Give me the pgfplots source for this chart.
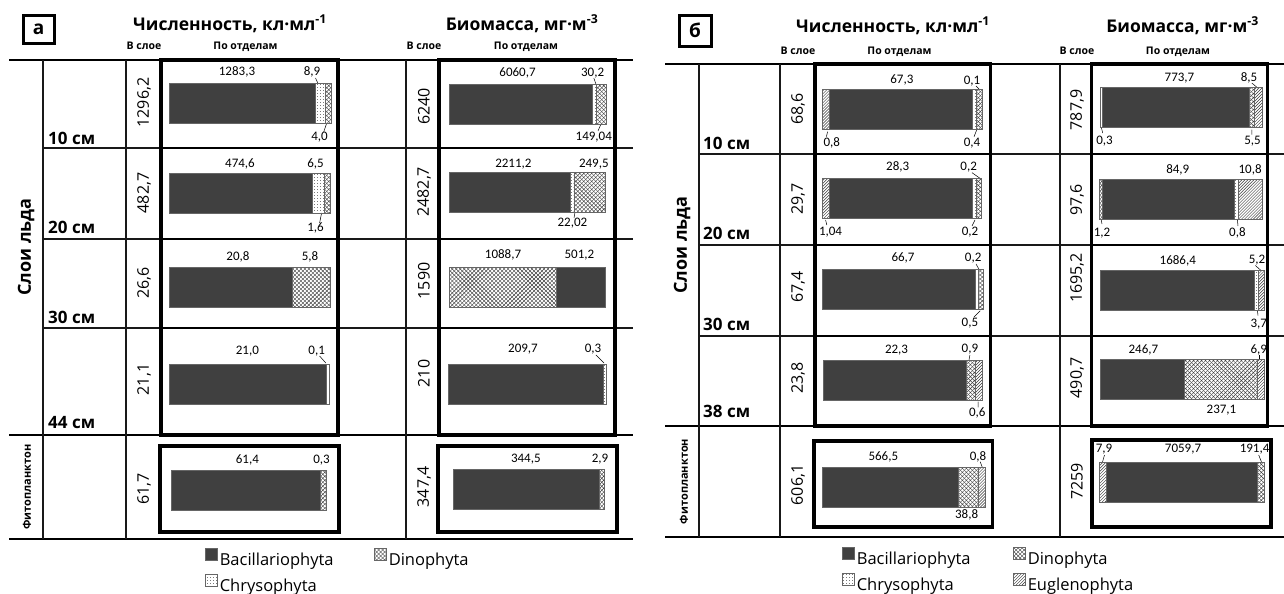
\documentclass[border=0pt]{standalone}
\usepackage{fontspec}
\setmainfont{Open Sans}
\newfontfamily\nums{Carlito}
\usepackage{pgfplots}
\pgfplotsset{compat=1.18}
\usetikzlibrary{patterns}
\definecolor{bacc}{gray}{0.25}
\pgfdeclarepatternformonly{xhatch}{\pgfqpoint{-1pt}{-1pt}}{\pgfqpoint{5pt}{5pt}}{\pgfqpoint{4pt}{4pt}}{%
 \pgfsetlinewidth{0.4pt}%
 \pgfpathmoveto{\pgfqpoint{0pt}{0pt}}\pgfpathlineto{\pgfqpoint{4.01pt}{4.01pt}}%
 \pgfpathmoveto{\pgfqpoint{0pt}{4pt}}\pgfpathlineto{\pgfqpoint{4.01pt}{-0.01pt}}%
 \pgfusepath{stroke}}
\pgfdeclarepatternformonly{fdots}{\pgfqpoint{0pt}{0pt}}{\pgfqpoint{3pt}{3pt}}{\pgfqpoint{3pt}{3pt}}{%
 \pgfpathcircle{\pgfqpoint{1.5pt}{1.5pt}}{0.45pt}%
 \pgfusepath{fill}}
\pgfdeclarepatternformonly{dlines}{\pgfqpoint{-1pt}{-1pt}}{\pgfqpoint{4pt}{4pt}}{\pgfqpoint{3pt}{3pt}}{%
 \pgfsetlinewidth{0.45pt}%
 \pgfpathmoveto{\pgfqpoint{0pt}{0pt}}\pgfpathlineto{\pgfqpoint{3.01pt}{3.01pt}}%
 \pgfusepath{stroke}}
\tikzset{
 seg/.style={draw=black!60, line width=0.6bp},
 bac/.style={seg, fill=bacc},
 chr/.style={seg, pattern=fdots, pattern color=black!80},
 din/.style={seg, pattern=xhatch, pattern color=black!75},
 eug/.style={seg, pattern=dlines, pattern color=black!80},
 lab/.style={font=\nums\fontsize{13bp}{14bp}\selectfont, inner sep=0pt},
 val/.style={rotate=90, font=\fontsize{16bp}{18bp}\selectfont, inner sep=0pt},
 dep/.style={anchor=base west, font=\fontsize{17bp}{19bp}\selectfont\bfseries, inner sep=0pt},
 ttl/.style={anchor=base, font=\fontsize{17.5bp}{20bp}\selectfont\bfseries, inner sep=0pt},
 sub/.style={anchor=base, font=\fontsize{10.5bp}{12bp}\selectfont\bfseries, inner sep=0pt},
 thin/.style={line width=1.6bp, black!90},
 thk/.style={line width=3.4bp, black},
 mid/.style={line width=2.4bp, black},
 ld/.style={line width=0.5bp, black},
}
\pgfplotsset{
 mini/.style={xbar stacked, scale only axis, hide axis, xmin=0, xmax=100,
   ymin=-0.5, ymax=0.5, height=40bp, bar width=40bp, anchor=north west, clip=false},
 leg/.style={hide axis, scale only axis, width=10bp, height=10bp, xmin=0, xmax=1, ymin=0, ymax=1,
   anchor=north west, legend columns=2, legend cell align=left,
   legend style={at={(0,1)}, anchor=north west, draw=none, fill=none, inner sep=0pt,
     font=\fontsize{16.5bp}{18bp}\selectfont, row sep=6bp,
     nodes={inner xsep=2.5bp, inner ysep=1bp},
     /tikz/every even column/.append style={column sep=#1}},
   legend image code/.code={\draw[##1] (0bp,0bp) rectangle (11.5bp,11.5bp);}},
}
\begin{document}
\begin{tikzpicture}
\begin{scope}[x=1bp,y=1bp]
\useasboundingbox (0,0) rectangle (1284,-592);
% ===== panel a : table =====
\draw[line width=2.2bp] (9,-60) -- (633,-60);
\draw[thin] (43,-148) -- (633,-148) (43,-239) -- (633,-239) (43,-328) -- (633,-328);
\draw[line width=2.2bp] (9,-435) -- (633,-435) (9,-539) -- (633,-539);
\draw[thin] (43,-60) -- (43,-539) (126,-60) -- (126,-539) (406,-60) -- (406,-539);
\draw[mid] (161,-148) -- (338,-148) (161,-239) -- (338,-239) (161,-328) -- (338,-328);
\draw[mid] (439,-148) -- (615,-148) (439,-239) -- (615,-239) (439,-328) -- (615,-328);
\draw[thk] (161,-60) rectangle (338,-435);
\draw[thk] (439,-60) rectangle (615,-435);
\draw[thk] (160,-446) rectangle (339,-532);
\draw[thk] (438,-446) rectangle (617,-532);
\draw[line width=3bp] (23,-15) rectangle (54,-43);
\node[font=\fontsize{19bp}{20bp}\selectfont\bfseries, inner sep=0pt] at (38.5,-29) {а};
\node[ttl] at (230,-30) {Численность, кл·мл\textsuperscript{-1}};
\node[ttl] at (522,-30) {Биомасса, мг·м\textsuperscript{-3}};
\node[sub] at (144,-49) {В слое};
\node[sub] at (245.5,-49) {По отделам};
\node[sub] at (424,-49) {В слое};
\node[sub] at (526,-49) {По отделам};
\node[rotate=90, font=\fontsize{18bp}{20bp}\selectfont\bfseries, inner sep=0pt] at (26,-247) {Слои льда};
\node[rotate=90, font=\fontsize{11bp}{12bp}\selectfont\bfseries, inner sep=0pt] at (27,-487) {Фитопланктон};
\node[dep] at (48,-144) {10 см};
\node[dep] at (48,-233.3) {20 см};
\node[dep] at (48,-323.3) {30 см};
\node[dep] at (48,-428.3) {44 см};
\node[val] at (144,-102.5) {1296,2};
\node[val] at (144,-193) {482,7};
\node[val] at (144,-283) {26,6};
\node[val] at (144,-379.5) {21,1};
\node[val] at (144,-489) {61,7};
\node[val] at (424,-106.7) {6240};
\node[val] at (424,-191.7) {2482,7};
\node[val] at (424,-281) {1590};
\node[val] at (424,-373.5) {210};
\node[val] at (424,-487) {347,4};
% labels a numeric
\node[lab] at (237,-72) {1283,3};
\node[lab] at (312,-72) {8,9};
\node[lab] at (319.5,-137) {4,0};
\draw[ld] (315.5,-78) -- (318,-83.5) (323.7,-132) -- (326.6,-123.5);
\node[lab] at (240,-164) {474,6};
\node[lab] at (315.5,-164) {6,5};
\node[lab] at (315.5,-228) {1,6};
\draw[ld] (319.6,-223) -- (321.6,-213);
\node[lab] at (238,-257) {20,8};
\node[lab] at (310,-257) {5,8};
\node[lab] at (247.4,-351) {21,0};
\node[lab] at (316.7,-351) {0,1};
\draw[ld] (319.6,-356) -- (325.8,-363);
\node[lab] at (247.4,-460) {61,4};
\node[lab] at (321.6,-460) {0,3};
% labels a biomass
\node[lab] at (517.5,-72.7) {6060,7};
\node[lab] at (592.6,-72.7) {30,2};
\node[lab] at (593.8,-136.7) {149,04};
\draw[ld] (593.8,-78) -- (595.9,-84) (598,-131) -- (601,-124);
\node[lab] at (513.4,-164) {2211,2};
\node[lab] at (593.8,-164) {249,5};
\node[lab] at (572.4,-222.7) {22,02};
\draw[ld] (574,-218) -- (575,-212);
\node[lab] at (503,-255) {1088,7};
\node[lab] at (579.4,-255) {501,2};
\node[lab] at (523,-349.3) {209,7};
\node[lab] at (593,-349.3) {0,3};
\draw[ld] (595.9,-355) -- (604,-363);
\node[lab] at (525.8,-459.3) {344,5};
\node[lab] at (600,-459.3) {2,9};
% ===== panel b : table =====
\draw[line width=2.2bp] (665,-64) -- (1284,-64);
\draw[thin] (699,-154) -- (1284,-154) (699,-245) -- (1284,-245) (699,-336) -- (1284,-336);
\draw[line width=2.2bp] (665,-426) -- (1284,-426) (665,-537) -- (1284,-537);
\draw[thin] (699,-64) -- (699,-537) (780,-64) -- (780,-537) (1060,-64) -- (1060,-537);
\draw[mid] (815,-154) -- (990.5,-154) (815,-245) -- (990.5,-245) (815,-336) -- (990.5,-336);
\draw[mid] (1091.5,-154) -- (1267.6,-154) (1091.5,-245) -- (1267.6,-245) (1091.5,-336) -- (1267.6,-336);
\draw[thk] (815,-64) rectangle (990.5,-426);
\draw[thk] (1091.5,-64) rectangle (1267.6,-426);
\draw[thk] (814,-441) rectangle (992.6,-527);
\draw[thk] (1092,-440) rectangle (1271,-527);
\draw[line width=3bp] (679,-15) rectangle (711,-46);
\node[font=\fontsize{19bp}{20bp}\selectfont\bfseries, inner sep=0pt] at (695,-30.5) {б};
\node[ttl] at (893,-32) {Численность, кл·мл\textsuperscript{-1}};
\node[ttl] at (1182.5,-32) {Биомасса, мг·м\textsuperscript{-3}};
\node[sub] at (798,-54) {В слое};
\node[sub] at (899.5,-54) {По отделам};
\node[sub] at (1077,-54) {В слое};
\node[sub] at (1178,-54) {По отделам};
\node[rotate=90, font=\fontsize{18bp}{20bp}\selectfont\bfseries, inner sep=0pt] at (682,-245) {Слои льда};
\node[rotate=90, font=\fontsize{11bp}{12bp}\selectfont\bfseries, inner sep=0pt] at (684,-481.5) {Фитопланктон};
\node[dep] at (703,-149.3) {10 см};
\node[dep] at (703,-239.3) {20 см};
\node[dep] at (703,-330.7) {30 см};
\node[dep] at (703,-417.3) {38 см};
\node[val] at (798,-109) {68,6};
\node[val] at (798,-199) {29,7};
\node[val] at (798,-287) {67,4};
\node[val] at (798,-378) {23,8};
\node[val] at (798,-485) {606,1};
\node[val] at (1077,-110) {787,9};
\node[val] at (1077,-200) {97,6};
\node[val] at (1077,-278) {1695,2};
\node[val] at (1077,-378) {490,7};
\node[val] at (1077,-481.5) {7259};
% labels b numeric
\node[lab] at (901.9,-80) {67,3};
\node[lab] at (972,-81) {0,1};
\node[lab] at (831.8,-142.7) {0,8};
\node[lab] at (972,-142.7) {0,4};
\draw[ld] (976,-86) -- (979,-89) (827.6,-131.7) -- (826.4,-136.7) (974,-136.7) -- (977,-129.3);
\node[lab] at (897.7,-167.3) {28,3};
\node[lab] at (968.7,-167.3) {0,2};
\node[lab] at (830.5,-231.7) {1,04};
\node[lab] at (970,-231.7) {0,2};
\draw[ld] (972,-172.7) -- (980,-178.3) (826.8,-225) -- (825.6,-220) (972,-226) -- (975,-220);
\node[lab] at (903,-258.3) {66,7};
\node[lab] at (973.2,-258.3) {0,2};
\node[lab] at (969.9,-323.3) {0,5};
\draw[ld] (976,-264) -- (979,-269.3) (974,-317) -- (980.2,-310.7);
\node[lab] at (896.5,-350) {22,3};
\node[lab] at (969.9,-349.3) {0,9};
\node[lab] at (977.3,-413.3) {0,6};
\draw[ld] (969.9,-355) -- (969,-360) (978,-401.7) -- (978,-407.3);
\node[lab] at (883.3,-456.7) {566,5};
\node[lab] at (978,-456.7) {0,8};
\node[lab] at (966.6,-515) {38,8};
\draw[ld] (980.2,-461.7) -- (982.3,-467.3);
% labels b biomass
\node[lab] at (1179.5,-77.9) {773,7};
\node[lab] at (1249.1,-77.9) {8,5};
\node[lab] at (1104.5,-141.6) {0,3};
\node[lab] at (1252.5,-141.6) {5,5};
\draw[ld] (1251.8,-83) -- (1258,-88.2) (1102.7,-133) -- (1101.4,-127.8) (1251.8,-129.5) -- (1251.8,-134.7);
\node[lab] at (1177.8,-170.2) {84,9};
\node[lab] at (1250.1,-170.2) {10,8};
\node[lab] at (1102,-232.8) {1,2};
\node[lab] at (1237.4,-232.8) {0,8};
\draw[ld] (1102,-224) -- (1101,-219) (1238,-226) -- (1237.4,-219.7);
\node[lab] at (1177.8,-260.4) {1686,4};
\node[lab] at (1257,-260.4) {5,2};
\node[lab] at (1258.7,-324) {3,7};
\draw[ld] (1255.3,-265.5) -- (1260.5,-270) (1258,-315.5) -- (1257.4,-310.3);
\node[lab] at (1143.4,-350) {246,7};
\node[lab] at (1258.7,-350) {6,9};
\node[lab] at (1221.5,-410.2) {237,1};
\draw[ld] (1259.4,-355) -- (1259.4,-359.6);
\node[lab] at (1104,-449) {7,9};
\node[lab] at (1183,-449) {7059,7};
\node[lab] at (1254.6,-449) {191,4};
\draw[ld] (1104.5,-455) -- (1102.5,-462) (1258.7,-455) -- (1261.5,-462);
\end{scope}
% ===== mini bars panel a numeric =====
\begin{axis}[mini, at={(169bp,-83.5bp)}, width=162bp]
\addplot[bac] coordinates {(90.6,0)};
\addplot[chr] coordinates {(5.9,0)};
\addplot[din] coordinates {(3.5,0)};
\end{axis}
\begin{axis}[mini, at={(169bp,-173bp)}, width=161bp]
\addplot[bac] coordinates {(89.0,0)};
\addplot[chr] coordinates {(7.7,0)};
\addplot[din] coordinates {(3.3,0)};
\end{axis}
\begin{axis}[mini, at={(169bp,-267bp)}, width=161bp]
\addplot[bac] coordinates {(76.4,0)};
\addplot[din] coordinates {(23.6,0)};
\end{axis}
\begin{axis}[mini, at={(169bp,-364bp)}, width=160bp]
\addplot[bac] coordinates {(98.2,0)};
\addplot[chr] coordinates {(1.8,0)};
\end{axis}
\begin{axis}[mini, at={(171.5bp,-470bp)}, width=154.3bp]
\addplot[bac] coordinates {(96.5,0)};
\addplot[din] coordinates {(3.5,0)};
\end{axis}
% ===== panel a biomass =====
\begin{axis}[mini, at={(449.5bp,-84bp)}, width=157.2bp]
\addplot[bac] coordinates {(90.6,0)};
\addplot[chr] coordinates {(2.6,0)};
\addplot[din] coordinates {(6.8,0)};
\end{axis}
\begin{axis}[mini, at={(449.5bp,-172bp)}, width=156.1bp]
\addplot[bac] coordinates {(77.5,0)};
\addplot[chr] coordinates {(2.2,0)};
\addplot[din] coordinates {(20.3,0)};
\end{axis}
\begin{axis}[mini, at={(449.5bp,-267bp)}, width=156.1bp]
\addplot[din] coordinates {(68.7,0)};
\addplot[bac] coordinates {(31.3,0)};
\end{axis}
\begin{axis}[mini, at={(448bp,-364bp)}, width=158.7bp]
\addplot[bac] coordinates {(97.6,0)};
\addplot[chr] coordinates {(2.4,0)};
\end{axis}
\begin{axis}[mini, at={(453.6bp,-469bp)}, width=151bp]
\addplot[bac] coordinates {(96.2,0)};
\addplot[din] coordinates {(3.8,0)};
\end{axis}
% ===== panel b numeric =====
\begin{axis}[mini, at={(822.7bp,-89bp)}, width=159.6bp]
\addplot[eug] coordinates {(4.4,0)};
\addplot[bac] coordinates {(89.1,0)};
\addplot[chr] coordinates {(2.6,0)};
\addplot[din] coordinates {(3.9,0)};
\end{axis}
\begin{axis}[mini, at={(822.7bp,-178.3bp)}, width=158.7bp]
\addplot[eug] coordinates {(4.4,0)};
\addplot[bac] coordinates {(89.6,0)};
\addplot[chr] coordinates {(2.6,0)};
\addplot[din] coordinates {(3.4,0)};
\end{axis}
\begin{axis}[mini, at={(822.7bp,-269bp)}, width=160.8bp]
\addplot[bac] coordinates {(94.6,0)};
\addplot[chr] coordinates {(2.1,0)};
\addplot[din] coordinates {(3.3,0)};
\end{axis}
\begin{axis}[mini, at={(823.5bp,-360bp)}, width=158.8bp]
\addplot[bac] coordinates {(89.6,0)};
\addplot[din] coordinates {(5.7,0)};
\addplot[eug] coordinates {(4.7,0)};
\end{axis}
\begin{axis}[mini, at={(822.7bp,-467bp)}, width=162.5bp]
\addplot[bac] coordinates {(83.5,0)};
\addplot[din] coordinates {(12.2,0)};
\addplot[eug] coordinates {(4.3,0)};
\end{axis}
% ===== panel b biomass =====
\begin{axis}[mini, at={(1100.3bp,-87.5bp)}, width=161.9bp]
\addplot[chr] coordinates {(1.5,0)};
\addplot[bac] coordinates {(90.4,0)};
\addplot[din] coordinates {(3.4,0)};
\addplot[eug] coordinates {(4.7,0)};
\end{axis}
\begin{axis}[mini, at={(1099.6bp,-179.5bp)}, width=162.6bp]
\addplot[din] coordinates {(1.9,0)};
\addplot[bac] coordinates {(81.1,0)};
\addplot[chr] coordinates {(2.5,0)};
\addplot[eug] coordinates {(14.5,0)};
\end{axis}
\begin{axis}[mini, at={(1100.3bp,-270bp)}, width=163.6bp]
\addplot[bac] coordinates {(94.3,0)};
\addplot[chr] coordinates {(2.5,0)};
\addplot[eug] coordinates {(3.2,0)};
\end{axis}
\begin{axis}[mini, at={(1100.3bp,-359.6bp)}, width=163.6bp]
\addplot[bac] coordinates {(51.6,0)};
\addplot[din] coordinates {(44.6,0)};
\addplot[eug] coordinates {(3.8,0)};
\end{axis}
\begin{axis}[mini, at={(1099.6bp,-462bp)}, width=164.3bp]
\addplot[eug] coordinates {(4.2,0)};
\addplot[bac] coordinates {(92.0,0)};
\addplot[din] coordinates {(3.8,0)};
\end{axis}
% ===== legends =====
\begin{axis}[leg=38bp, at={(205bp,-548bp)}]
\addlegendimage{bac}\addlegendentry{Bacillariophyta}
\addlegendimage{din}\addlegendentry{Dinophyta}
\addlegendimage{chr}\addlegendentry{Chrysophyta}
\end{axis}
\begin{axis}[leg=40bp, at={(842bp,-547bp)}]
\addlegendimage{bac}\addlegendentry{Bacillariophyta}
\addlegendimage{din}\addlegendentry{Dinophyta}
\addlegendimage{chr}\addlegendentry{Chrysophyta}
\addlegendimage{eug}\addlegendentry{Euglenophyta}
\end{axis}
\end{tikzpicture}
\end{document}
